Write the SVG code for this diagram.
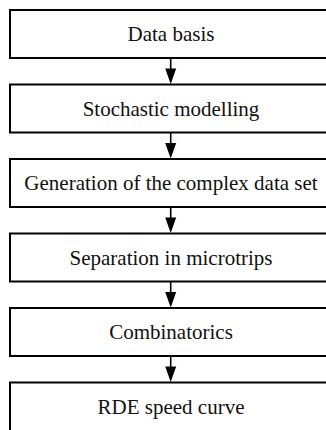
<svg xmlns="http://www.w3.org/2000/svg" width="326" height="430" viewBox="0 0 326 430">
<defs>
<style>
.box{fill:#fff;stroke:#000;stroke-width:2}
.lbl{font-family:"Liberation Serif","Times New Roman",serif;font-size:21px;fill:#111;text-anchor:middle}
.con{stroke:#000;stroke-width:1.6;fill:none}
.head{fill:#000}
</style>
</defs>
<rect width="326" height="430" fill="#fff"/>
<g id="n1"><rect class="box" x="10" y="10" width="321.4" height="48"/><text class="lbl" x="171" y="41">Data basis</text></g>
<g id="n2"><rect class="box" x="10" y="84.5" width="321.4" height="48"/><text class="lbl" x="171" y="115.5">Stochastic modelling</text></g>
<g id="n3"><rect class="box" x="10" y="159" width="321.4" height="48"/><text class="lbl" x="171" y="190">Generation of the complex data set</text></g>
<g id="n4"><rect class="box" x="10" y="233.5" width="321.4" height="48"/><text class="lbl" x="171" y="264.5">Separation in microtrips</text></g>
<g id="n5"><rect class="box" x="10" y="308" width="321.4" height="48"/><text class="lbl" x="171" y="339">Combinatorics</text></g>
<g id="n6"><rect class="box" x="10" y="382.5" width="321.4" height="60"/><text class="lbl" x="171" y="413.5">RDE speed curve</text></g>
<g id="connectors">
<path class="con" d="M170.7 58V70M170.7 132.5V144.5M170.7 207V219M170.7 281.5V293.5M170.7 356V368"/>
<path class="head" d="M165.2 68.5h11l-5.5 15.5zM165.2 143h11l-5.5 15.5zM165.2 217.5h11l-5.5 15.5zM165.2 292h11l-5.5 15.5zM165.2 366.5h11l-5.5 15.5z"/>
</g>
</svg>
